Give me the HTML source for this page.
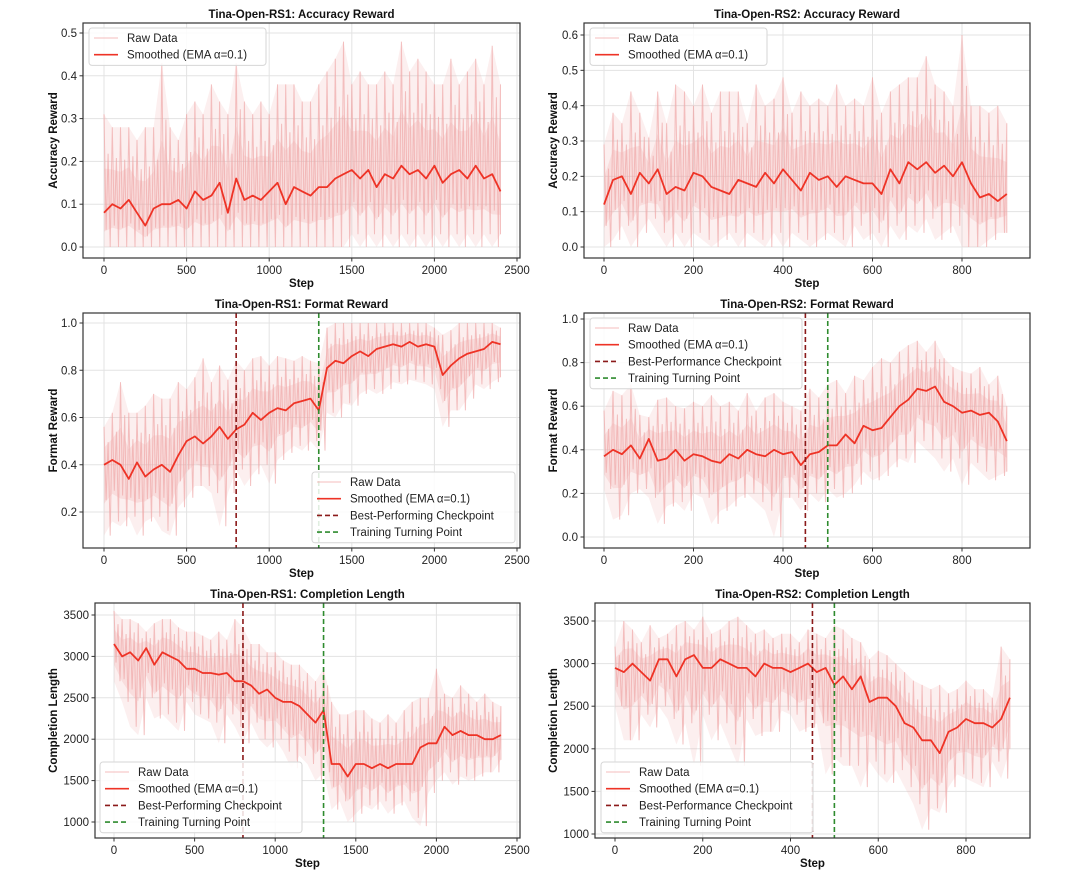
<!DOCTYPE html>
<html><head><meta charset="utf-8">
<style>
html,body{margin:0;padding:0;background:#fff;}
svg{display:block;font-family:"Liberation Sans","DejaVu Sans",sans-serif;}
</style></head>
<body>
<svg id="fig" width="1080" height="874" viewBox="0 0 1080 874" xmlns="http://www.w3.org/2000/svg"></svg>
<script>
// ---------- data ----------
const rs1Steps50 = 50;   // step interval of RS1 samples
const rs2Steps20 = 20;   // step interval of RS2 samples
const xTicksRS1 = [0,500,1000,1500,2000,2500];
const xTicksRS2 = [0,200,400,600,800];

const acc1Smooth = [0.08,0.10,0.09,0.11,0.08,0.05,0.09,0.10,0.10,0.11,0.09,0.13,0.11,0.12,0.15,0.08,0.16,0.11,0.12,0.11,0.13,0.15,0.10,0.14,0.13,0.12,0.14,0.14,0.16,0.17,0.18,0.16,0.18,0.14,0.17,0.16,0.19,0.17,0.18,0.16,0.19,0.15,0.17,0.18,0.16,0.19,0.16,0.17,0.13];
const acc1Hi = [0.31,0.28,0.28,0.28,0.25,0.28,0.28,0.43,0.28,0.25,0.31,0.34,0.31,0.38,0.34,0.31,0.43,0.34,0.31,0.34,0.31,0.38,0.38,0.38,0.34,0.34,0.38,0.41,0.44,0.48,0.38,0.41,0.38,0.38,0.41,0.38,0.48,0.41,0.44,0.41,0.38,0.38,0.44,0.38,0.41,0.44,0.38,0.47,0.38];
const acc1Lo = [0,0,0,0,0,0,0,0,0,0,0,0,0,0,0,0,0,0,0,0,0,0,0,0,0,0,0,0,0,0,0.03,0,0.03,0,0.03,0,0.03,0,0.03,0,0.03,0,0.03,0,0.03,0,0.03,0,0.03];
const acc1YTicks = [0.0,0.1,0.2,0.3,0.4,0.5];

const acc2Smooth = [0.12,0.19,0.20,0.15,0.21,0.18,0.22,0.15,0.17,0.16,0.21,0.20,0.17,0.16,0.15,0.19,0.18,0.17,0.21,0.18,0.22,0.19,0.16,0.21,0.19,0.20,0.17,0.20,0.19,0.18,0.18,0.15,0.22,0.18,0.24,0.22,0.24,0.21,0.23,0.20,0.24,0.18,0.14,0.15,0.13,0.15];
const acc2Hi = [0.29,0.38,0.35,0.44,0.38,0.31,0.44,0.35,0.46,0.44,0.40,0.46,0.38,0.44,0.44,0.44,0.35,0.46,0.40,0.42,0.48,0.38,0.44,0.40,0.42,0.40,0.46,0.40,0.42,0.40,0.48,0.38,0.44,0.46,0.48,0.48,0.54,0.46,0.44,0.40,0.60,0.40,0.40,0.38,0.40,0.35];
const acc2Lo = [0.0,0.02,0.06,0.0,0.04,0.08,0.04,0.0,0.04,0.0,0.04,0.02,0.0,0.02,0.04,0.0,0.04,0.02,0.0,0.04,0.0,0.04,0.02,0.0,0.02,0.04,0.02,0.0,0.06,0.02,0.04,0.0,0.06,0.02,0.06,0.04,0.08,0.02,0.04,0.06,0.0,0.0,0.0,0.02,0.04,0.04];
const acc2YTicks = [0.0,0.1,0.2,0.3,0.4,0.5,0.6];

const fmt1Smooth = [0.40,0.42,0.40,0.34,0.41,0.35,0.38,0.40,0.37,0.44,0.50,0.52,0.49,0.52,0.56,0.51,0.55,0.57,0.62,0.59,0.62,0.64,0.63,0.66,0.67,0.68,0.63,0.81,0.84,0.83,0.86,0.88,0.86,0.89,0.90,0.91,0.90,0.92,0.90,0.91,0.90,0.78,0.82,0.85,0.87,0.88,0.89,0.92,0.91];
const fmt1Hi = [0.56,0.62,0.75,0.62,0.62,0.65,0.70,0.68,0.68,0.75,0.72,0.77,0.85,0.75,0.82,0.76,0.84,0.80,0.85,0.86,0.82,0.86,0.85,0.84,0.86,0.84,0.83,0.98,1.0,1.0,1.0,1.0,1.0,1.0,1.0,1.0,1.0,1.0,1.0,1.0,0.98,0.95,0.97,1.0,1.0,1.0,1.0,1.0,0.98];
const fmt1Lo = [0.10,0.16,0.14,0.18,0.10,0.16,0.18,0.12,0.10,0.22,0.26,0.31,0.31,0.28,0.14,0.28,0.38,0.31,0.36,0.40,0.32,0.42,0.45,0.48,0.46,0.50,0.46,0.62,0.60,0.66,0.65,0.70,0.72,0.70,0.72,0.75,0.74,0.76,0.75,0.74,0.72,0.56,0.63,0.63,0.68,0.74,0.72,0.75,0.77];
const fmt1YTicks = [0.2,0.4,0.6,0.8,1.0];
const fmt1Markers = [800,1300];

const fmt2Smooth = [0.37,0.40,0.38,0.42,0.36,0.45,0.35,0.36,0.40,0.35,0.38,0.37,0.35,0.34,0.38,0.36,0.40,0.38,0.37,0.40,0.38,0.39,0.33,0.38,0.39,0.42,0.42,0.47,0.43,0.51,0.49,0.50,0.55,0.60,0.63,0.68,0.67,0.69,0.62,0.60,0.57,0.58,0.56,0.57,0.53,0.44];
const fmt2Hi = [0.58,0.67,0.65,0.70,0.56,0.55,0.63,0.64,0.60,0.59,0.62,0.60,0.65,0.60,0.62,0.58,0.66,0.58,0.64,0.66,0.62,0.60,0.58,0.68,0.64,0.70,0.72,0.66,0.74,0.72,0.78,0.82,0.80,0.85,0.88,0.90,0.85,0.90,0.82,0.78,0.76,0.75,0.78,0.70,0.74,0.60];
const fmt2Lo = [0.22,0.08,0.10,0.20,0.22,0.18,0.06,0.14,0.16,0.12,0.20,0.18,0.06,0.12,0.14,0.18,0.20,0.16,0.12,0.0,0.18,0.18,0.12,0.20,0.16,0.22,0.18,0.20,0.24,0.30,0.26,0.28,0.32,0.36,0.34,0.44,0.40,0.36,0.30,0.36,0.24,0.34,0.30,0.26,0.28,0.30];
const fmt2YTicks = [0.0,0.2,0.4,0.6,0.8,1.0];
const fmt2Markers = [450,500];

const len1Smooth = [3150,3000,3050,2950,3100,2900,3050,3000,2950,2850,2850,2800,2800,2780,2800,2700,2700,2650,2550,2600,2500,2450,2450,2400,2300,2200,2350,1700,1700,1550,1700,1700,1650,1700,1650,1700,1700,1700,1900,1950,1950,2150,2050,2100,2050,2050,2000,2000,2050];
const len1Hi = [3550,3450,3450,3400,3300,3400,3450,3450,3350,3300,3300,3250,3200,3300,3200,3450,3350,3150,3150,3050,3050,2950,2900,2900,2800,2700,2850,2450,2300,2300,2350,2350,2250,2200,2300,2200,2350,2450,2500,2500,2850,2550,2500,2650,2550,2450,2550,2450,2400];
const len1Lo = [2700,2450,2150,2050,2500,2250,2300,2200,2100,2450,2300,2250,2200,1950,2300,2150,1950,2200,2000,1900,2000,1850,1650,1800,1700,1500,1600,1150,1250,1000,1100,1200,1150,1250,1100,1200,1250,1050,950,1350,1500,1600,1450,1550,1500,1550,1600,1600,1750];
const len1YTicks = [1000,1500,2000,2500,3000,3500];
const len1Markers = [800,1300];

const len2Smooth = [2950,2900,3000,2900,2800,3050,3050,2850,3050,3100,2950,2950,3050,3000,2950,2950,2850,3000,2950,2950,2900,2950,3000,2900,2950,2750,2850,2700,2850,2550,2600,2600,2500,2300,2250,2100,2100,1950,2200,2250,2350,2300,2300,2250,2350,2600];
const len2Hi = [3200,3500,3400,3250,3450,3300,3350,3450,3500,3400,3550,3350,3400,3500,3550,3450,3350,3400,3300,3350,3350,3250,3400,3350,3300,3450,3400,3300,3250,3050,3150,3100,3000,2900,2800,2750,2700,2750,2650,2700,2800,2700,2700,2600,3200,3050];
const len2Lo = [2500,2100,2100,2400,2250,2500,2350,2050,2300,1800,2400,2100,2300,2050,1800,2350,2150,2200,2200,2450,2400,2200,2250,2300,1700,1900,1800,1800,1550,1850,1700,1600,1750,1550,1350,1050,1300,1250,1550,1700,1650,1600,1550,1850,1650,2000];
const len2YTicks = [1000,1500,2000,2500,3000,3500];
const len2Markers = [450,500];

// ---------- drawing ----------
const NS = "http://www.w3.org/2000/svg";
const svg = document.getElementById('fig');
function mk(tag, attrs, parent){
  const e = document.createElementNS(NS, tag);
  for (const k in attrs) e.setAttribute(k, attrs[k]);
  (parent||svg).appendChild(e);
  return e;
}
const RAW = '#f0a8a8', SM = '#ee3326', DR = '#8b1a1a', GR = '#2e8b2e';

function panel(cfg){
  const g = mk('g', {});
  
  
  const f = cfg.frame;
  const xs = v => cfg.x0px + v * (cfg.x1px - cfg.x0px) / cfg.x1v;
  const ys = v => cfg.yApx + (v - cfg.yAv) * (cfg.yBpx - cfg.yApx) / (cfg.yBv - cfg.yAv);
  cfg.xTicks.forEach(t => {
    const l = mk('line', {x1:xs(t), x2:xs(t), y1:f.t, y2:f.b, stroke:'#e3e3e3', 'stroke-width':1}, g);
    
    
  });
  cfg.yTicks.forEach(t => {
    const l = mk('line', {x1:f.l, x2:f.r, y1:ys(t), y2:ys(t), stroke:'#e3e3e3', 'stroke-width':1}, g);
    
    
  });
  const cid = 'clip-' + cfg.name;
  const cp = mk('clipPath', {id: cid}, g);
  mk('rect', {x:f.l, y:f.t, width:f.r-f.l, height:f.b-f.t}, cp);
  const dg = mk('g', {'clip-path':'url(#'+cid+')'}, g);
  const step = cfg.step;
  const n = Math.min(cfg.hi.length, cfg.lo.length, cfg.sm.length);
  // outer band
  let band = [];
  for (let i = 0; i < n; i++) band.push(xs(i*step).toFixed(1)+','+ys(cfg.hi[i]).toFixed(1));
  for (let i = n-1; i >= 0; i--) band.push(xs(i*step).toFixed(1)+','+ys(cfg.lo[i]).toFixed(1));
  const bp = mk('polygon', {points: band.join(' '), fill: RAW, 'fill-opacity':0.18, stroke:'none'}, dg);
  
  
  // dense core band
  let core = [];
  for (let i = 0; i < n; i++) core.push(xs(i*step).toFixed(1)+','+ys(cfg.sm[i] + (cfg.hi[i]-cfg.sm[i])*0.45).toFixed(1));
  for (let i = n-1; i >= 0; i--) core.push(xs(i*step).toFixed(1)+','+ys(cfg.sm[i] - (cfg.sm[i]-cfg.lo[i])*0.55).toFixed(1));
  const cb = mk('polygon', {points: core.join(' '), fill: RAW, 'fill-opacity':0.25, stroke:'none'}, dg);
  
  
  // raw zigzag
  let zz = [];
  for (let i = 0; i < n; i++){
    zz.push(xs(i*step).toFixed(1)+','+ys(cfg.hi[i]).toFixed(1));
    if (i < n-1){
      zz.push(xs(i*step + step*0.25).toFixed(1)+','+ys(cfg.sm[i] - (cfg.sm[i]-cfg.lo[i])*0.5).toFixed(1));
      zz.push(xs(i*step + step*0.5).toFixed(1)+','+ys(cfg.sm[i] + (cfg.hi[i]-cfg.sm[i])*0.6).toFixed(1));
      zz.push(xs(i*step + step*0.75).toFixed(1)+','+ys(cfg.lo[i]).toFixed(1));
    } else {
      zz.push(xs(i*step).toFixed(1)+','+ys(cfg.lo[i]).toFixed(1));
    }
  }
  const zl = mk('polyline', {points: zz.join(' '), fill:'none', stroke: RAW, 'stroke-width':1, 'stroke-opacity':0.7}, dg);
  
  
  const sp = cfg.sm.map((v,i) => xs(i*step).toFixed(1)+','+ys(v).toFixed(1)).join(' ');
  const sl = mk('polyline', {points: sp, fill:'none', stroke: SM, 'stroke-width':1.8, 'stroke-linejoin':'round'}, dg);
  
  
  (cfg.markers||[]).forEach((m,k) => {
    const ml = mk('line', {x1:xs(m), x2:xs(m), y1:f.t, y2:f.b, stroke: k===0?DR:GR, 'stroke-width':1.6, 'stroke-dasharray':'5,3'}, g);
    
    
  });
  const fr = mk('rect', {x:f.l, y:f.t, width:f.r-f.l, height:f.b-f.t, fill:'none', stroke:'#333', 'stroke-width':1.2}, g);
  
  
  cfg.xTicks.forEach(t => {
    mk('line', {x1:xs(t), x2:xs(t), y1:f.b, y2:f.b+3.5, stroke:'#333', 'stroke-width':1}, g);
    const tx = mk('text', {x:xs(t), y:f.b+16, 'text-anchor':'middle', 'font-size':11.5, fill:'#222'}, g);
    tx.textContent = t;
    
    
  });
  cfg.yTicks.forEach(t => {
    mk('line', {x1:f.l-3.5, x2:f.l, y1:ys(t), y2:ys(t), stroke:'#333', 'stroke-width':1}, g);
    const tx = mk('text', {x:f.l-6, y:ys(t)+4, 'text-anchor':'end', 'font-size':11.5, fill:'#222'}, g);
    tx.textContent = cfg.yDec ? t.toFixed(1) : t;
    
    
  });
  const ti = mk('text', {x:(f.l+f.r)/2, y:f.t-5, 'text-anchor':'middle', 'font-size':11.5, 'font-weight':'bold', fill:'#111'}, g);
  ti.textContent = cfg.title;
  
  
  const xl = mk('text', {x:(f.l+f.r)/2, y:f.b+29, 'text-anchor':'middle', 'font-size':11.5, 'font-weight':'bold', fill:'#111'}, g);
  xl.textContent = 'Step';
  
  
  const yc = (f.t+f.b)/2;
  const yl = mk('text', {x:cfg.ylabX, y:yc, 'text-anchor':'middle', 'font-size':11.5, 'font-weight':'bold', fill:'#111', transform:'rotate(-90 '+cfg.ylabX+' '+yc+')'}, g);
  yl.textContent = cfg.ylabel;
  
  
  const L = cfg.legend;
  const lg = mk('g', {}, g);
  
  
  const entries = [['Raw Data', RAW, false], ['Smoothed (EMA α=0.1)', SM, false]];
  if (cfg.markers) { entries.push([cfg.bestLabel, DR, true]); entries.push(['Training Turning Point', GR, true]); }
  mk('rect', {x:L.x, y:L.y, width:L.w, height:entries.length*16.7+4, rx:3, fill:'#fff', 'fill-opacity':0.85, stroke:'#d6d6d6', 'stroke-width':1}, lg);
  entries.forEach((e,i) => {
    const yy = L.y + 10 + i*16.7;
    const sw = mk('line', {x1:L.x+5, x2:L.x+29, y1:yy, y2:yy, stroke:e[1], 'stroke-width': i===0?1.2:1.6, 'stroke-dasharray': e[2]?'5,3':'none', 'stroke-opacity': i===0?0.6:1}, lg);
    
    
    const lt = mk('text', {x:L.x+38, y:yy+4, 'font-size':11.5, fill:'#222'}, lg);
    lt.textContent = e[0];
    
    
  });
}

panel({name:'rs1-accuracy-panel', title:'Tina-Open-RS1: Accuracy Reward', ylabel:'Accuracy Reward', ylabX:57,
  frame:{l:83,r:520,t:23,b:258}, x0px:104, x1px:517, x1v:2500, yApx:247, yAv:0, yBpx:33, yBv:0.5,
  step:rs1Steps50, sm:acc1Smooth, hi:acc1Hi, lo:acc1Lo, xTicks:xTicksRS1, yTicks:acc1YTicks, yDec:true,
  legend:{x:89,y:28,w:177}});
panel({name:'rs2-accuracy-panel', title:'Tina-Open-RS2: Accuracy Reward', ylabel:'Accuracy Reward', ylabX:557,
  frame:{l:584,r:1030,t:23,b:258}, x0px:604, x1px:962, x1v:800, yApx:247, yAv:0, yBpx:35, yBv:0.6,
  step:rs2Steps20, sm:acc2Smooth, hi:acc2Hi, lo:acc2Lo, xTicks:xTicksRS2, yTicks:acc2YTicks, yDec:true,
  legend:{x:590,y:28,w:177}});
panel({name:'rs1-format-panel', title:'Tina-Open-RS1: Format Reward', ylabel:'Format Reward', ylabX:57,
  frame:{l:83,r:520,t:313,b:548}, x0px:104, x1px:517, x1v:2500, yApx:512, yAv:0.2, yBpx:323, yBv:1.0,
  step:rs1Steps50, sm:fmt1Smooth, hi:fmt1Hi, lo:fmt1Lo, xTicks:xTicksRS1, yTicks:fmt1YTicks, yDec:true,
  markers:fmt1Markers, bestLabel:'Best-Performing Checkpoint', legend:{x:312,y:472,w:203}});
panel({name:'rs2-format-panel', title:'Tina-Open-RS2: Format Reward', ylabel:'Format Reward', ylabX:557,
  frame:{l:584,r:1030,t:313,b:548}, x0px:604, x1px:962, x1v:800, yApx:537, yAv:0, yBpx:319, yBv:1.0,
  step:rs2Steps20, sm:fmt2Smooth, hi:fmt2Hi, lo:fmt2Lo, xTicks:xTicksRS2, yTicks:fmt2YTicks, yDec:true,
  markers:fmt2Markers, bestLabel:'Best-Performance Checkpoint', legend:{x:590,y:318,w:212}});
panel({name:'rs1-completion-panel', title:'Tina-Open-RS1: Completion Length', ylabel:'Completion Length', ylabX:57,
  frame:{l:95,r:520,t:603,b:838}, x0px:114, x1px:517, x1v:2500, yApx:822, yAv:1000, yBpx:615, yBv:3500,
  step:rs1Steps50, sm:len1Smooth, hi:len1Hi, lo:len1Lo, xTicks:xTicksRS1, yTicks:len1YTicks, yDec:false,
  markers:len1Markers, bestLabel:'Best-Performing Checkpoint', legend:{x:100,y:762,w:202}});
panel({name:'rs2-completion-panel', title:'Tina-Open-RS2: Completion Length', ylabel:'Completion Length', ylabX:557,
  frame:{l:595,r:1030,t:603,b:838}, x0px:615, x1px:966, x1v:800, yApx:834, yAv:1000, yBpx:621, yBv:3500,
  step:rs2Steps20, sm:len2Smooth, hi:len2Hi, lo:len2Lo, xTicks:xTicksRS2, yTicks:len2YTicks, yDec:false,
  markers:len2Markers, bestLabel:'Best-Performance Checkpoint', legend:{x:601,y:762,w:212}});
</script>
</body></html>
